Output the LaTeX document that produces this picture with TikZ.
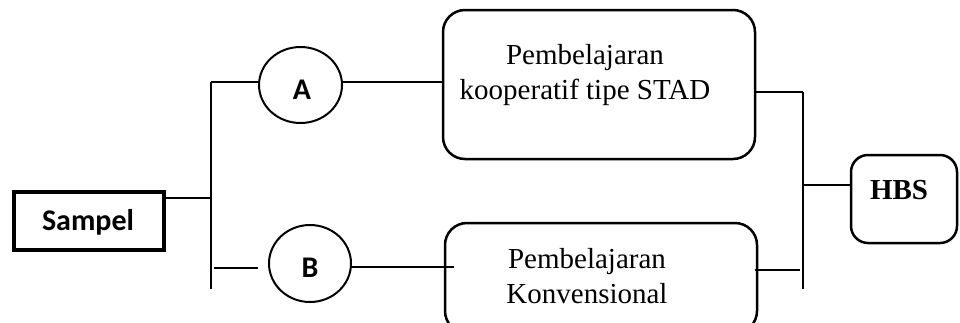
\documentclass[tikz,border=0pt]{standalone}
\usepackage{fontspec}
\setmainfont{Liberation Serif}
\newfontfamily\calfont{Carlito}
\usetikzlibrary{shapes.geometric}

\tikzset{
  wire/.style={line width=1.2pt, black},
  sampelbox/.style={draw, line width=3.5pt, minimum width=150pt, minimum height=58pt, inner sep=0pt},
  groupoval/.style={draw, ellipse, line width=2pt, inner sep=0pt},
  roundbox/.style={draw, rounded corners=22pt, line width=2.5pt, inner sep=0pt},
  sanslabel/.style={font=\calfont\bfseries\fontsize{30}{36}\selectfont, inner sep=0pt},
  seriflabel/.style={font=\fontsize{29}{35}\selectfont, align=center, inner sep=0pt},
}

\begin{document}
\begin{tikzpicture}[x=1pt, y=-1pt]
  \useasboundingbox (0,0) rectangle (960,322);
  \clip (0,0) rectangle (960,322);

  % sample box
  \node[sampelbox] (sampel) at (89,221) {};
  \node[sanslabel] (sampeltxt) at (88,222) {Sampel};

  % groups
  \node[groupoval, minimum width=83pt, minimum height=76pt] (ga) at (300.5,85) {};
  \node[sanslabel] (gatxt) at (302,90) {A};
  \node[groupoval, minimum width=82pt, minimum height=77pt] (gb) at (310,263.5) {};
  \node[sanslabel] (gbtxt) at (310,268) {B};

  % treatments
  \node[roundbox, minimum width=312pt, minimum height=149pt] (stad) at (599,84.5) {};
  \node[seriflabel] (stadtxt) at (585,75) {Pembelajaran\\kooperatif tipe STAD};
  \node[roundbox, minimum width=312pt, minimum height=110pt] (konv) at (601,278) {};
  \node[seriflabel] (konvtxt) at (587,276) {Pembelajaran\\Konvensional};

  % outcome
  \node[roundbox, rounded corners=17pt, minimum width=106pt, minimum height=88pt] (hbs) at (904,199) {};
  \node[font=\bfseries\fontsize{29}{35}\selectfont, inner sep=0pt] (hbstxt) at (899,190) {HBS};

  % branching spine on the left
  \coordinate (ltop) at (211,82);
  \coordinate (lmid) at (211,198);
  \coordinate (lbot) at (211,289);
  \coordinate (bstart) at (214,268);
  \draw[wire] (ltop) -- (lbot);
  \draw[wire] (sampel.east |- lmid) -- (lmid);
  \draw[wire] (ltop) -- (ga.west |- ltop);
  \draw[wire] (bstart) -- ([xshift=-10pt]gb.west |- bstart);
  \draw[wire] (ga.east |- ltop) -- ([xshift=2pt]stad.west |- ltop);
  \draw[wire] (gb.east |- 0,267) -- ([xshift=10pt]konv.west |- 0,267);

  % joining spine on the right
  \coordinate (rtop) at (803,92);
  \coordinate (rmid) at (803,185);
  \coordinate (rbot) at (803,289);
  \draw[wire] (rtop) -- (rbot);
  \draw[wire] (stad.east |- rtop) -- (rtop);
  \draw[wire] ([xshift=-3pt]konv.east |- 0,270) -- (800,270);
  \draw[wire] (rmid) -- (hbs.west |- rmid);
\end{tikzpicture}
\end{document}
